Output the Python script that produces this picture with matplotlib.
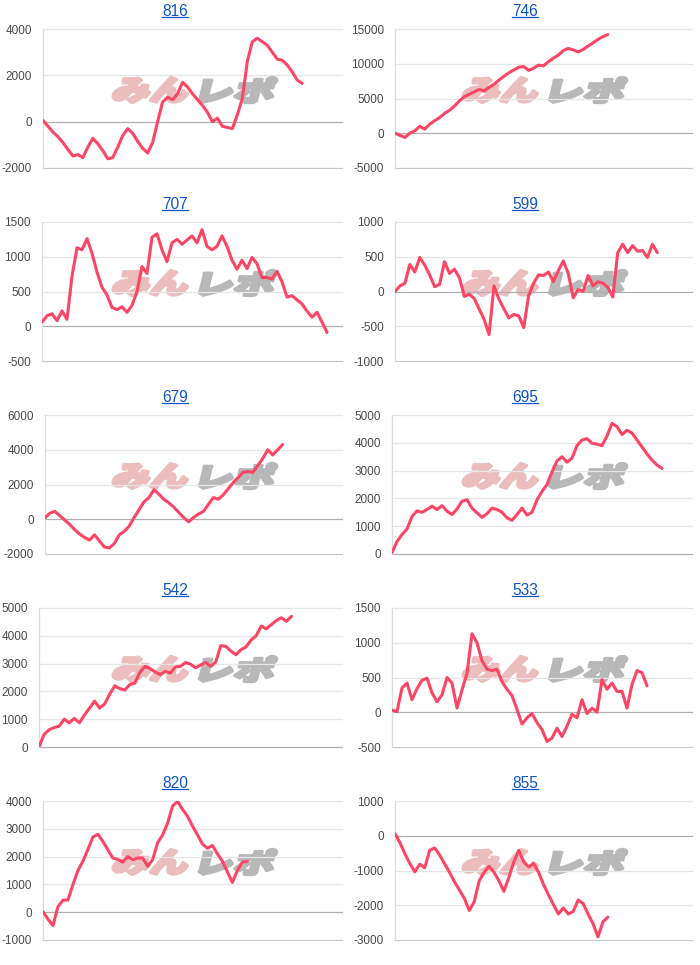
import numpy as np
import matplotlib
matplotlib.use("Agg")
from matplotlib import pyplot as plt
from matplotlib.font_manager import FontProperties
from matplotlib.lines import Line2D
from matplotlib.patches import PathPatch
from matplotlib.textpath import TextPath
from matplotlib.transforms import Affine2D

W, H = 700, 965

TITLES = ["816", "746", "707", "599", "679", "695", "542", "533", "820", "855"]

# series values, one point every 1/60 of the x range
VALUES_816 = [50, -200, -450, -650, -900, -1200, -1480, -1420, -1550, -1100,
              -720, -950, -1250, -1600, -1550, -1100, -600, -300, -500, -850,
              -1150, -1350, -900, 0, 850, 1050, 950, 1200, 1700, 1500,
              1200, 950, 700, 400, 0, 150, -200, -250, -300, 300,
              1000, 2600, 3450, 3600, 3450, 3300, 3000, 2700, 2650, 2450,
              2150, 1800, 1650]
VALUES_746 = [0, -300, -600, 0, 350, 1000, 600, 1300, 1800, 2250,
              2850, 3300, 3900, 4650, 5250, 5600, 5950, 6300, 6100, 6600,
              7050, 7650, 8200, 8700, 9100, 9500, 9600, 9050, 9350, 9800,
              9700, 10300, 10800, 11250, 11900, 12200, 12000, 11700, 12050, 12550,
              13000, 13500, 13900, 14200]
VALUES_707 = [60, 150, 180, 80, 220, 100, 720, 1130, 1100, 1260,
              1050, 780, 560, 450, 270, 240, 280, 200, 300, 500,
              860, 760, 1280, 1330, 1100, 930, 1200, 1250, 1180, 1240,
              1300, 1200, 1390, 1150, 1100, 1150, 1300, 1150, 950, 820,
              950, 830, 990, 900, 700, 700, 680, 790, 640, 420,
              440, 380, 320, 220, 130, 200, 60, -90]
VALUES_599 = [0, 80, 120, 390, 280, 490, 380, 240, 70, 100,
              430, 260, 320, 200, -70, -40, -100, -250, -400, -620,
              80, -110, -250, -380, -330, -350, -520, -60, 120, 240,
              230, 280, 140, 300, 440, 260, -90, 30, 0, 230,
              80, 140, 120, 60, -80, 560, 680, 560, 660, 580,
              590, 490, 680, 560]
VALUES_679 = [80, 350, 450, 200, -50, -300, -600, -850, -1050, -1200,
              -900, -1250, -1600, -1650, -1400, -900, -700, -400, 100, 550,
              1000, 1250, 1700, 1450, 1150, 950, 700, 400, 100, -150,
              100, 300, 450, 850, 1250, 1150, 1400, 1750, 2100, 2400,
              2700, 2750, 2700, 3100, 3500, 4000, 3700, 4000, 4300]
VALUES_695 = [50, 450, 700, 900, 1350, 1550, 1500, 1600, 1720, 1600,
              1740, 1540, 1420, 1620, 1900, 1950, 1650, 1480, 1320, 1450,
              1650, 1600, 1500, 1300, 1210, 1420, 1650, 1400, 1500, 1950,
              2250, 2500, 2950, 3350, 3500, 3300, 3450, 3900, 4100, 4150,
              3980, 3950, 3900, 4250, 4700, 4580, 4300, 4450, 4350, 4100,
              3850, 3600, 3380, 3200, 3080]
VALUES_542 = [0, 450, 620, 700, 750, 1000, 870, 1030, 870, 1150,
              1400, 1650, 1400, 1550, 1900, 2200, 2100, 2050, 2250, 2300,
              2700, 2900, 2820, 2700, 2600, 2720, 2660, 2880, 2900, 3040,
              2980, 2850, 2950, 3040, 2900, 3060, 3650, 3620, 3450, 3320,
              3500, 3600, 3850, 4000, 4350, 4250, 4400, 4550, 4650, 4520,
              4700]
VALUES_533 = [30, 10, 350, 420, 180, 340, 460, 490, 280, 150,
              250, 500, 420, 60, 320, 560, 1130, 1000, 740, 620,
              600, 620, 440, 330, 240, 40, -170, -80, -20, -150,
              -250, -420, -370, -230, -350, -200, -30, -80, 180, -20,
              60, 0, 470, 330, 420, 300, 300, 60, 400, 600,
              570, 380]
VALUES_820 = [20, -250, -480, 200, 430, 440, 990, 1500, 1830, 2250,
              2700, 2800, 2550, 2250, 1950, 1900, 1800, 2000, 1890, 1950,
              1950, 1650, 1890, 2500, 2780, 3200, 3820, 3980, 3700, 3450,
              3100, 2780, 2450, 2300, 2400, 2100, 1830, 1450, 1070, 1500,
              1800, 1830]
VALUES_855 = [60, -200, -520, -800, -1040, -820, -920, -420, -350, -550,
              -800, -1050, -1320, -1560, -1800, -2150, -1900, -1300, -1050, -880,
              -1050, -1300, -1600, -1200, -750, -420, -750, -900, -800, -1050,
              -1400, -1700, -1980, -2250, -2080, -2250, -2180, -1850, -1950, -2250,
              -2530, -2910, -2480, -2340]

SERIES = [VALUES_816, VALUES_746, VALUES_707, VALUES_599, VALUES_679,
          VALUES_695, VALUES_542, VALUES_533, VALUES_820, VALUES_855]

# (min, max, step) of each value axis
Y_RANGES = [(-2000, 4000, 2000), (-5000, 15000, 5000), (-500, 1500, 500),
            (-1000, 1000, 500), (-2000, 6000, 2000), (0, 5000, 1000),
            (0, 5000, 1000), (-500, 1500, 500), (-1000, 4000, 1000),
            (-3000, 1000, 1000)]

X_SLOTS = 60

# left edge of each chart area in pixels (depends on label width)
AXES_LEFT = [43, 395, 42, 395, 45, 392, 39, 392, 43, 395]

LINE_COLOR = "#fd4564"
TITLE_COLOR = "#1155cc"
LABEL_FONT = "Liberation Sans"
LOGO_FONT = FontProperties(family="Noto Sans CJK JP", weight="black")


def fig_rect(x0, y0, x1, y1):
    """Pixel box (top-left origin) to figure fraction rect."""
    return [x0 / W, 1 - y1 / H, (x1 - x0) / W, (y1 - y0) / H]


def add_logo(fig, text, box, color):
    """Draw a slanted, heavy text logo stretched into a pixel box."""
    path = TextPath((0, 0), text, size=40, prop=LOGO_FONT)
    ext = path.get_extents()
    x0, y0, x1, y1 = box
    slant = np.tan(np.radians(14))
    h = y1 - y0 - 3
    sx = ((x1 - x0 - 3) - slant * h) / ext.width
    sy = h / ext.height
    tr = (Affine2D().translate(-ext.x0, -ext.y0).scale(sx, sy)
          .skew_deg(14, 0).translate(x0 + 1.5, H - y1 + 1.5)
          + Affine2D().scale(1 / W, 1 / H) + fig.transFigure)
    # the stroke fattens the glyphs to look like the bold logo
    patch = PathPatch(path, transform=tr, facecolor=color,
                      edgecolor=color, linewidth=2.4, joinstyle="round",
                      zorder=-1)
    fig.add_artist(patch)


fig = plt.figure(figsize=(W / 100, H / 100), dpi=100)
fig.patch.set_facecolor("white")

titles = []
for i, (title, vals, (lo, hi, step), left) in enumerate(
        zip(TITLES, SERIES, Y_RANGES, AXES_LEFT)):
    r, c = divmod(i, 2)
    top = 29 + 193 * r
    bottom = 168 + 193 * r
    right = 342 + 350 * c

    # background watermark
    add_logo(fig, "みん", (110 + 350 * c, 76 + 193 * r,
                          193 + 350 * c, 104 + 193 * r), "#ebbdbd")
    add_logo(fig, "レポ", (197 + 350 * c, 76 + 193 * r,
                          279 + 350 * c, 104 + 193 * r), "#b8b8b8")

    ax = fig.add_axes(fig_rect(left, top, right, bottom))
    ax.set_facecolor("none")
    ticks = np.arange(lo, hi + step, step)
    for t in ticks:
        if t == 0:
            col = "#b0b0b0"
        elif t == lo:
            col = "#c8c8c8"
        else:
            col = "#e6e6e6"
        ax.axhline(t, color=col, lw=0.9, zorder=1, clip_on=False)
    ax.plot(np.arange(len(vals)), vals, color=LINE_COLOR, lw=2.2,
            zorder=3, solid_joinstyle="round", solid_capstyle="round")
    ax.set_xlim(0, X_SLOTS)
    ax.set_ylim(lo, hi)
    ax.set_xticks([])
    ax.set_yticks(ticks)
    ax.set_yticklabels([str(int(t)) for t in ticks], family=LABEL_FONT)
    ax.tick_params(axis="y", length=0, pad=8, labelsize=8.5,
                   labelcolor="#4a4a4a")
    for s in ("top", "right", "bottom"):
        ax.spines[s].set_visible(False)
    ax.spines["left"].set_color("#dcdcdc")
    ax.spines["left"].set_linewidth(0.9)

    txt = fig.text((175 + 350 * c) / W, 1 - (15.7 + 193 * r) / H, title,
                   ha="center", va="baseline", fontsize=11.2,
                   color=TITLE_COLOR, family=LABEL_FONT)
    titles.append((txt, r))

# underline the titles like links
fig.canvas.draw()
renderer = fig.canvas.get_renderer()
for txt, r in titles:
    bb = txt.get_window_extent(renderer)
    y = 1 - (17.2 + 193 * r) / H
    fig.add_artist(Line2D([bb.x0 / W, bb.x1 / W], [y, y],
                          color=TITLE_COLOR, lw=0.9,
                          transform=fig.transFigure))

fig.savefig("out.png", dpi=100)
plt.close(fig)
